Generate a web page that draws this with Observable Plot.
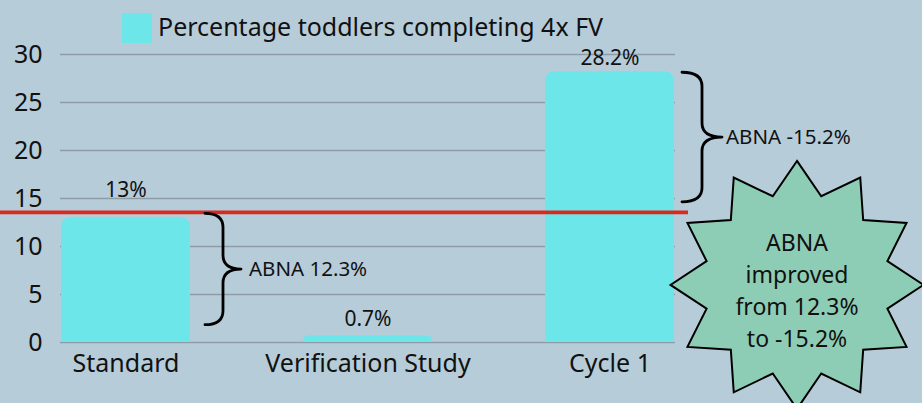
<!DOCTYPE html>
<html>
<head>
<meta charset="utf-8">
<script src="https://cdn.jsdelivr.net/npm/d3@7"></script>
<script src="https://cdn.jsdelivr.net/npm/@observablehq/plot@0.6"></script>
<style>
  html, body { margin: 0; padding: 0; background: #b7ccd9; width: 922px; height: 403px; overflow: hidden; }
  #legend { height: 44px; position: relative; font-family: "Noto Sans", sans-serif; font-size: 25px; color: #111; }
  #legend .sw { position: absolute; left: 122px; top: 13px; width: 30px; height: 30px; background: #6ce6e9; }
  #legend .lb { position: absolute; left: 158px; top: 9px; line-height: 34px; white-space: nowrap; }
  svg { display: block; overflow: visible; }
</style>
</head>
<body>
<div id="legend"><div class="sw"></div><div class="lb"></div></div>
<div id="chart"></div>
<script>
// ---- data ----
const seriesName = "Percentage toddlers completing 4x FV";
const categories = ["Standard", "Verification Study", "Cycle 1"];
const values = [13, 0.7, 28.2];
const valueLabels = ["13%", "0.7%", "28.2%"];
const yTicks = [0, 5, 10, 15, 20, 25, 30];
const threshold = 13.5;
const braceCategories = ["Standard", "Cycle 1"];
const braceTops = [13.4, 28.1];
const braceBottoms = [1.8, 14.6];
const braceLabels = ["ABNA 12.3%", "ABNA -15.2%"];
const starLines = ["ABNA", "improved", "from 12.3%", "to -15.2%"];
const starAnchorY = 6;
const starTextY = 5.6;

// ---- styles / layout ----
const barColor = "#6ce6e9";
const gridColor = "#8e9ca6";
const redColor = "#d8281f";
const starFill = "#8ecdb5";
const font = "Noto Sans, sans-serif";
const labelDy = [-27, -17, -14];
const braceGaps = [15, 8];
const braceWidths = [36, 40];
const braceTextGaps = [8, 4];

document.querySelector("#legend .lb").textContent = seriesName;

const rows = categories.map((c, i) => ({cat: c, value: values[i], label: valueLabels[i]}));
const braces = braceCategories.map((c, i) => ({cat: c, top: braceTops[i], bottom: braceBottoms[i], label: braceLabels[i]}));
const starDatum = [{text: starLines.join("\n")}];

// custom 12-point star symbol
const star12 = {
  draw(context, size) {
    const R = Math.sqrt(size / Math.PI);
    const r = R * 0.74;
    const n = 12;
    for (let k = 0; k < 2 * n; k++) {
      const a = -Math.PI / 2 + k * Math.PI / n;
      const rad = k % 2 === 0 ? R : r;
      const px = Math.cos(a) * rad * 1.02, py = Math.sin(a) * rad;
      if (k === 0) context.moveTo(px, py); else context.lineTo(px, py);
    }
    context.closePath();
  }
};

// red threshold line extending from the left edge into the margin
function redLine(index, scales) {
  const g = d3.create("svg:g");
  const x = scales.x, y = scales.y;
  const xr = x("Cycle 1") + x.bandwidth() + 14;
  g.append("line")
    .attr("x1", 0).attr("x2", xr)
    .attr("y1", y(threshold)).attr("y2", y(threshold))
    .attr("stroke", redColor).attr("stroke-width", 3.6);
  return g.node();
}

// curly braces with labels
function braceMark(index, scales) {
  const g = d3.create("svg:g");
  const x = scales.x, y = scales.y;
  braces.forEach((b, i) => {
    const x0 = x(b.cat) + x.bandwidth() + braceGaps[i];
    const y1 = y(b.top), y2 = y(b.bottom), ym = (y1 + y2) / 2;
    const w = braceWidths[i], q = 14, xm = x0 + w * 0.5;
    const d = `M${x0},${y1} Q${xm},${y1} ${xm},${y1 + q} L${xm},${ym - q} Q${xm},${ym} ${x0 + w},${ym}` +
              ` Q${xm},${ym} ${xm},${ym + q} L${xm},${y2 - q} Q${xm},${y2} ${x0},${y2}`;
    g.append("path").attr("d", d).attr("fill", "none").attr("stroke", "#000")
      .attr("stroke-width", 2.8).attr("stroke-linecap", "round").attr("stroke-linejoin", "round");
    g.append("text").attr("x", x0 + w + braceTextGaps[i]).attr("y", ym).attr("dy", "0.35em")
      .attr("text-anchor", "start")
      .attr("font-family", font).attr("font-size", 20.5).attr("fill", "#111").text(b.label);
  });
  return g.node();
}

const chart = Plot.plot({
  width: 922,
  height: 359,
  marginLeft: 60,
  marginRight: 247,
  marginTop: 10,
  marginBottom: 61,
  style: {background: "transparent", fontFamily: font, color: "#111", overflow: "visible"},
  x: {domain: categories, paddingInner: 0.469, paddingOuter: 0, label: null},
  y: {domain: [0, 30], ticks: yTicks, label: null},
  marks: [
    Plot.gridY(yTicks, {stroke: gridColor, strokeOpacity: 1, strokeWidth: 1.5}),
    Plot.barY(rows, {x: "cat", y: "value", fill: barColor, rx: 9}),
    Plot.barY(rows, {x: "cat", y1: 0, y2: d => d.value / 2, fill: barColor}),
    ...rows.map((r, i) => Plot.text([r], {x: "cat", y: "value", text: "label", dy: labelDy[i], fontSize: 21, fill: "#111"})),
    Plot.axisY({ticks: yTicks, tickSize: 0, tickPadding: 18, fontSize: 25, fill: "#111"}),
    Plot.axisX({tickSize: 0, tickPadding: 12, fontSize: 25, fill: "#111"}),
    redLine,
    braceMark,
    Plot.dot(starDatum, {x: () => "Cycle 1", y: () => starAnchorY, dx: 187, r: 124, symbol: star12, fill: starFill, stroke: "#000", strokeWidth: 2}),
    Plot.text(starDatum, {x: () => "Cycle 1", y: () => starTextY, dx: 187, text: "text", fontSize: 23, lineHeight: 1.39, fill: "#111"})
  ]
});
document.getElementById("chart").append(chart);
</script>
</body>
</html>
